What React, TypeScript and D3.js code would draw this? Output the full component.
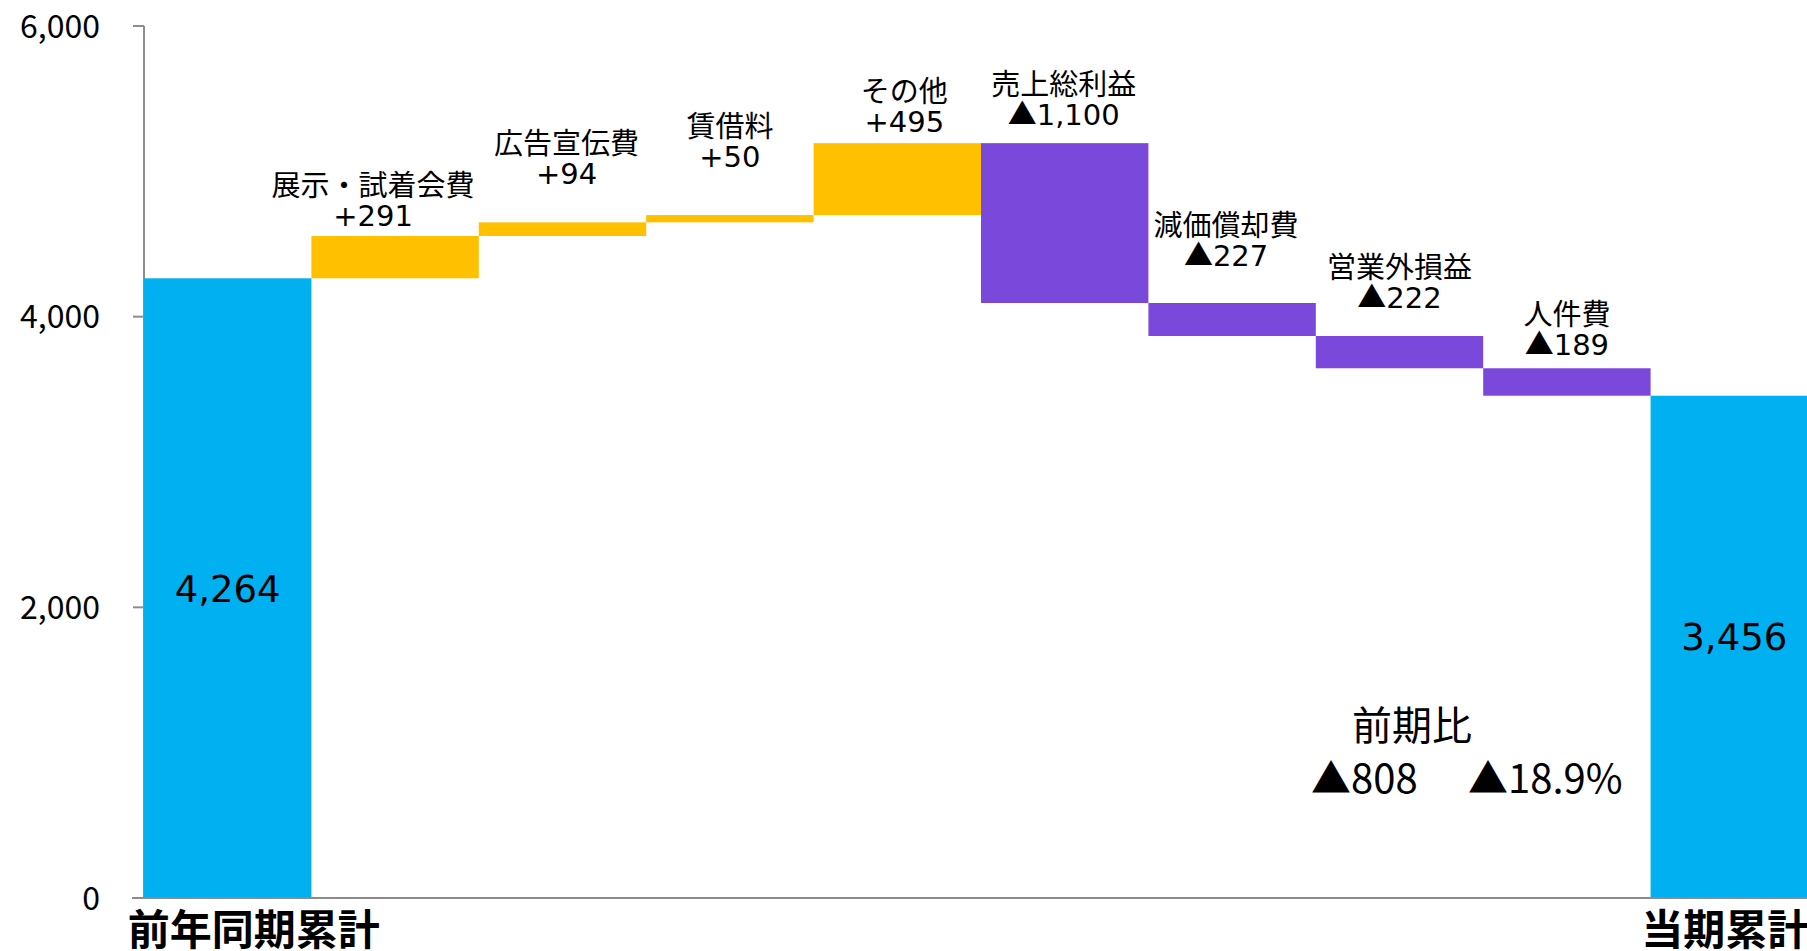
import { useEffect, useRef } from "react";
import * as d3 from "d3";

// data
const startLabel = "前年同期累計";
const endLabel = "当期累計";
const startValue = 4264;
const endValue = 3456;
const stepNames = [
  "展示・試着会費",
  "広告宣伝費",
  "賃借料",
  "その他",
  "売上総利益",
  "減価償却費",
  "営業外損益",
  "人件費",
];
const stepValues = [291, 94, 50, 495, -1100, -227, -222, -189];
const yTicks = [0, 2000, 4000, 6000];
const diffTitle = "前期比";
const diffValue = -808;
const diffPercent = -18.9;

const FONT = "'Noto Sans CJK JP', 'Noto Sans', sans-serif";
const NUM_FONT = "'DejaVu Sans', 'Noto Sans CJK JP', sans-serif";

export default function App() {
  const ref = useRef<SVGSVGElement>(null);

  useEffect(() => {
    const svg = d3.select(ref.current);
    svg.selectAll("*").remove();

    const W = 1807;
    const H = 951;
    const left = 144;
    const top = 26;
    const bottom = 898;

    const cats = [startLabel, ...stepNames, endLabel];

    const x = d3
      .scaleBand<string>()
      .domain(cats)
      .range([left, left + 167.4 * cats.length])
      .padding(0);

    const y = d3.scaleLinear().domain([0, 6000]).range([bottom, top]);

    // running totals for the floating bars
    let acc = startValue;
    const steps = stepNames.map((name, i) => {
      const v = stepValues[i];
      const from = acc;
      acc += v;
      return { name, v, lo: Math.min(from, acc), hi: Math.max(from, acc) };
    });

    const fmt = d3.format(",");
    const signed = (v: number) => (v < 0 ? "▲" + fmt(-v) : "+" + fmt(v));

    // per-label nudges (px) to match the hand-placed labels
    const labelDx = [-22, 4, 0, 7, -1, -6, 0, 0];
    const labelGap = [10, 38, 48, 11, 18, 37, 28, 13];

    const axisColor = "#8c8c8c";

    // y axis
    svg
      .append("line")
      .attr("x1", left)
      .attr("x2", left)
      .attr("y1", y(6000))
      .attr("y2", bottom)
      .attr("stroke", axisColor)
      .attr("stroke-width", 2);

    svg
      .selectAll(".ytick")
      .data(yTicks)
      .enter()
      .append("line")
      .attr("x1", left - 11)
      .attr("x2", left)
      .attr("y1", (d) => y(d))
      .attr("y2", (d) => y(d))
      .attr("stroke", axisColor)
      .attr("stroke-width", 2);

    svg
      .selectAll(".ylabel")
      .data(yTicks)
      .enter()
      .append("text")
      .attr("x", 100)
      .attr("y", (d) => y(d))
      .attr("dy", "0.36em")
      .attr("text-anchor", "end")
      .style("font-family", FONT)
      .style("font-size", "32px")
      .attr("fill", "#000")
      .text((d) => fmt(d));

    // totals
    const totals = [
      { cat: startLabel, v: startValue, dy: 0 },
      { cat: endLabel, v: endValue, dy: -11 },
    ];

    svg
      .selectAll(".total")
      .data(totals)
      .enter()
      .append("rect")
      .attr("x", (d) => x(d.cat)!)
      .attr("y", (d) => y(d.v))
      .attr("width", x.bandwidth())
      .attr("height", (d) => bottom - y(d.v))
      .attr("fill", "#00B0F0");

    svg
      .selectAll(".totalLabel")
      .data(totals)
      .enter()
      .append("text")
      .attr("x", (d) => x(d.cat)! + x.bandwidth() / 2)
      .attr("y", (d) => (y(d.v) + bottom) / 2 + d.dy)
      .attr("dy", "0.37em")
      .attr("text-anchor", "middle")
      .style("font-family", NUM_FONT)
      .style("font-size", "37px")
      .attr("fill", "#000")
      .text((d) => fmt(d.v));

    // steps
    svg
      .selectAll(".step")
      .data(steps)
      .enter()
      .append("rect")
      .attr("x", (d) => x(d.name)!)
      .attr("y", (d) => y(d.hi))
      .attr("width", x.bandwidth())
      .attr("height", (d) => y(d.lo) - y(d.hi))
      .attr("fill", (d) => (d.v >= 0 ? "#FFC000" : "#7B48DC"));

    // category name line
    svg
      .selectAll(".stepName")
      .data(steps)
      .enter()
      .append("text")
      .attr("x", (d, i) => x(d.name)! + x.bandwidth() / 2 + labelDx[i])
      .attr("y", (d, i) => y(d.hi) - labelGap[i] - 30)
      .attr("text-anchor", "middle")
      .style("font-family", FONT)
      .style("font-size", "29px")
      .attr("fill", "#000")
      .text((d) => d.name);

    // value line
    const val = svg
      .selectAll(".stepValue")
      .data(steps)
      .enter()
      .append("text")
      .attr("x", (d, i) => x(d.name)! + x.bandwidth() / 2 + labelDx[i])
      .attr("y", (d, i) => y(d.hi) - labelGap[i])
      .attr("text-anchor", "middle")
      .style("font-size", "29px")
      .attr("fill", "#000");
    val
      .append("tspan")
      .style("font-family", (d) => (d.v < 0 ? FONT : NUM_FONT))
      .text((d) => (d.v < 0 ? "▲" : "+"));
    val
      .append("tspan")
      .style("font-family", NUM_FONT)
      .text((d) => fmt(Math.abs(d.v)));

    // x axis
    svg
      .append("line")
      .attr("x1", left - 12)
      .attr("x2", W)
      .attr("y1", bottom)
      .attr("y2", bottom)
      .attr("stroke", axisColor)
      .attr("stroke-width", 2);

    const catLabels = [
      { cat: startLabel, dx: 26 },
      { cat: endLabel, dx: -9 },
    ];
    svg
      .selectAll(".catLabel")
      .data(catLabels)
      .enter()
      .append("text")
      .attr("x", (d) => x(d.cat)! + x.bandwidth() / 2 + d.dx)
      .attr("y", 945)
      .attr("text-anchor", "middle")
      .style("font-family", FONT)
      .style("font-size", "42px")
      .style("font-weight", "700")
      .attr("fill", "#000")
      .text((d) => d.cat);

    // year-over-year note
    const note = svg
      .append("g")
      .style("font-family", FONT)
      .style("font-size", "40px")
      .attr("fill", "#000");
    note
      .append("text")
      .attr("x", 1412)
      .attr("y", 740)
      .attr("text-anchor", "middle")
      .text(diffTitle);
    note
      .append("text")
      .attr("x", 1311)
      .attr("y", 793)
      .text(signed(diffValue));
    note
      .append("text")
      .attr("x", 1468)
      .attr("y", 793)
      .text("▲" + Math.abs(diffPercent).toFixed(1) + "%");

    svg.attr("width", W).attr("height", H);
  }, []);

  return (
    <svg
      ref={ref}
      width={1807}
      height={951}
      style={{ position: "absolute", left: 0, top: 0, background: "#fff" }}
    />
  );
}
